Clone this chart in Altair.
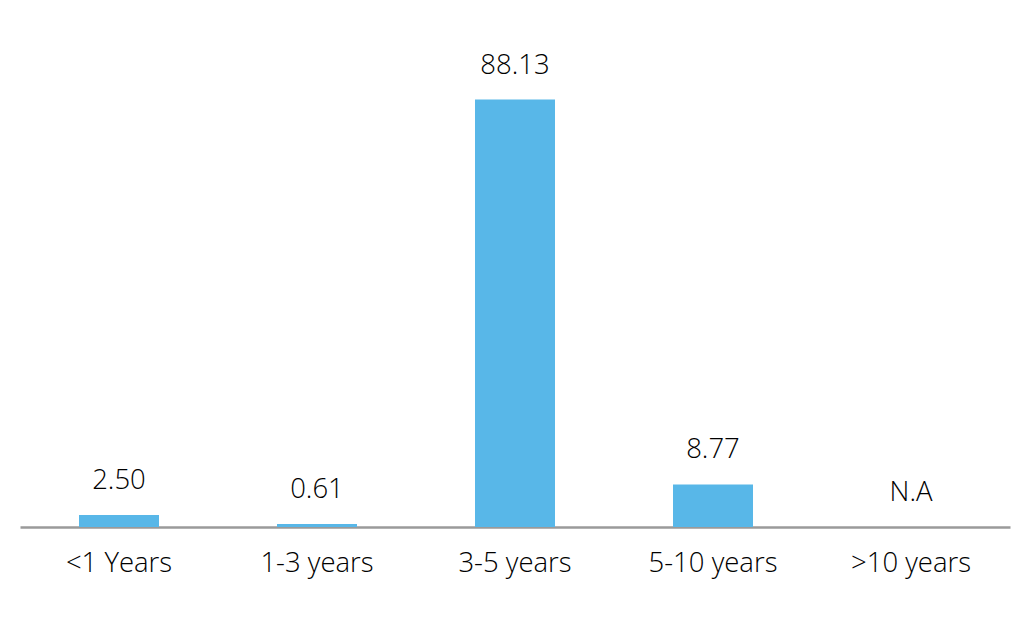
import altair as alt
import pandas as pd

categories = ["<1 Years", "1-3 years", "3-5 years", "5-10 years", ">10 years"]
values = [2.50, 0.61, 88.13, 8.77, None]
labels = ["2.50", "0.61", "88.13", "8.77", "N.A"]

df = pd.DataFrame({"cat": categories, "value": values, "label": labels})
df["ypos"] = df["value"].fillna(0)

FONT = "Open Sans"

x = alt.X("cat:N", sort=categories, title=None,
          scale=alt.Scale(paddingInner=0, paddingOuter=0),
          axis=alt.Axis(labelAngle=0, labelFontSize=27.5, labelFont=FONT,
                        labelFontWeight=300,
                        labelColor="#000000", ticks=False, tickSize=0,
                        labelPadding=22, domainColor="#9a9a9a",
                        domainWidth=2.5, grid=False))
y = alt.Y("ypos:Q", scale=alt.Scale(domain=[0, 100]), axis=None)

bars = alt.Chart(df).mark_bar(size=80, color="#58B7E8").encode(
    x=x, y=alt.Y("value:Q", scale=alt.Scale(domain=[0, 100]), axis=None)
)

text = alt.Chart(df).mark_text(
    baseline="alphabetic", dy=-26, fontSize=27.5, font=FONT, fontWeight=300,
    color="#000000"
).encode(x=x, y=y, text="label:N")

chart = alt.layer(bars, text).properties(
    width=990, height=485,
    autosize=alt.AutoSizeParams(type="none"),
    padding={"left": 12, "top": 34, "right": 6, "bottom": 80},
).configure(background="white").configure_view(strokeWidth=0, stroke=None)

chart.save("out.html", embed_options={"renderer": "svg", "actions": False})
